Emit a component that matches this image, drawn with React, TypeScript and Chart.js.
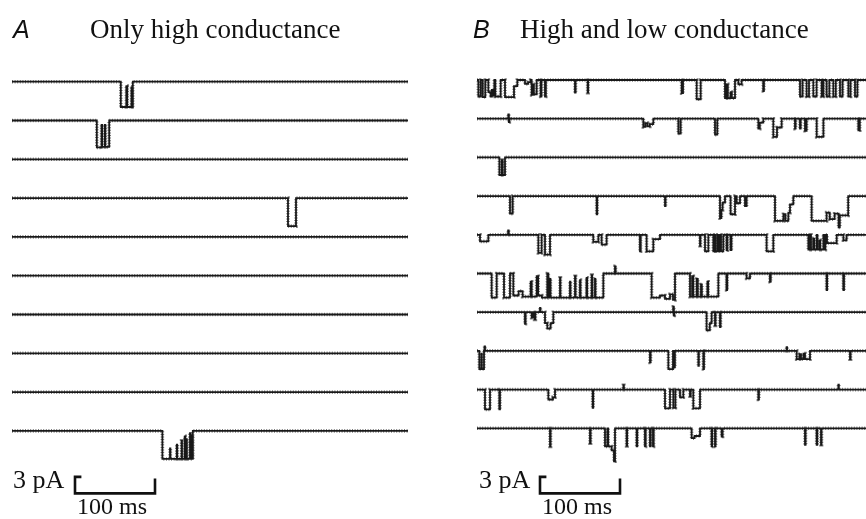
import React, { useEffect, useRef } from "react";
import { Chart, registerables } from "chart.js";

Chart.register(...registerables);

// ---- data: each trace is a list of current transitions [time ms, level pA] (0 = closed) ----
const SCALE_MS = 100;
const SCALE_PA = 3;
const A_END_MS = 495;
const B_END_MS = 492;

const A1 = [[136, -4.6], [143, -0.8], [144, -4.6], [149.5, -1], [150, -4.7], [151, 0]];
const A2 = [[106, -4.9], [112, -0.8], [112.7, -4.8], [116, -0.8], [116.7, -4.8], [121.5, 0]];
const A3: number[][] = [];
const A4 = [[345, -5.1], [355, 0]];
const A5: number[][] = [];
const A6: number[][] = [];
const A7: number[][] = [];
const A8: number[][] = [];
const A9: number[][] = [];
const A10 = [[188, -5.1], [197.5, -3.2], [198, -5.1], [206, -2.5], [206.5, -5.1], [212, -1.8], [212.5, -5.1], [216, -1], [216.5, -5.1], [218, -1.5], [218.5, -5.1], [222.5, -0.4], [223, -5.1], [225, -0.8], [225.5, -5.1], [226, 0]];

const B1 = [[1.7, -3], [4.6, 0], [7.1, -3.1], [10.4, 0], [14.2, -2.2], [17, -3], [18.5, -1.8], [20.4, -2.8], [21.7, 0], [22.9, -3], [29.6, 0], [35, -3.1], [46.25, -1.1], [50.4, 0], [60, -0.7], [64, -0.4], [67.1, 0], [68.3, -2.7], [70, -0.8], [71, -2.6], [74.6, 0], [79.6, -3], [80.5, 0], [85, -3], [86, 0], [122.5, -2.3], [123.2, 0], [138.3, -2.3], [139, 0], [255.8, -2.4], [257.5, 0], [274.6, -3.5], [279.6, 0], [310, -3.3], [312, -0.8], [313.5, -3.3], [317, -2.2], [318.5, -3.3], [322.5, 0], [326.7, -0.8], [330.8, 0], [357.9, -2], [358.6, 0], [403.75, -3], [407, 0], [412, -3], [415, 0], [420.4, -3], [424.5, 0], [430.8, -3], [433, 0], [437, -3], [440.5, 0], [445.4, -3], [448.5, 0], [453.75, -3], [457, 0], [464.2, -3], [467, 0], [472.5, -3], [475.5, 0]];
const B2 = [[39.2, 0.8], [39.8, -0.6], [40.4, 0], [207.9, -1.5], [210.5, -0.8], [213, -1.4], [216, -1], [220.4, 0], [251.7, -2.7], [254.6, 0], [297.5, -2.9], [300.4, 0], [351.7, -1.8], [353.5, -0.7], [357.9, 0], [370.4, -3.3], [375, -1.6], [380.8, 0], [397.5, -1.8], [398.2, 0], [403.75, -1.8], [404.5, 0], [410, -2.2], [412, 0], [424.6, -3.3], [433, 0], [476.7, -2.1], [478.5, 0]];
const B3 = [[28, -3.2], [31, -0.5], [32, -3.2], [35, 0]];
const B4 = [[41.25, -3.2], [44.6, 0], [149.6, -3.3], [150.3, 0], [235, -1.8], [235.7, 0], [303.75, -4], [305.5, -2.5], [307, -1.2], [310, 0], [317, -3.3], [322.5, 0], [324.6, -1.3], [328.75, 0], [335, -1.8], [337, 0], [372.5, -4.5], [383, -3.3], [385.5, -4.5], [389.2, -3], [391.25, -1.5], [395.4, 0], [418.3, -4.5], [437, -3], [441, -4.2], [447, -3.2], [452, -5.7], [453.5, -3.5], [464, 0]];
const B5 = [[3.75, -1.2], [14.2, 0], [39, 0.8], [39.6, 0], [76.7, -3.3], [80.8, 0], [85, -3.6], [91.25, 0], [145.4, -1.3], [151.7, 0], [155.8, -1.8], [162, 0], [203.75, -3], [204.5, 0], [212, -3], [220.4, -0.8], [228.75, 0], [278.75, -2], [279.3, 0], [285, -3], [289.2, 0], [295.4, -3], [297.5, 0], [298.5, -3], [301, 0], [302, -3], [304, 0], [305, -3], [307.9, 0], [312, -2.8], [313, 0], [317, -2.8], [318, 0], [362, -3], [370.4, 0], [414.2, -2.7], [416.5, 0], [417.5, -2.7], [420.4, -0.7], [421.5, -2.7], [424.6, 0], [425.5, -2.7], [428, -1], [429, -2.7], [433, 0], [434, -2.7], [435.5, 0], [437.5, -1.5], [449.6, 0], [458, -1], [462, 0]];
const B6 = [[18.3, -4.4], [24.6, 0], [33.75, -4.4], [41.25, 0], [45.4, -4], [52, -3.2], [57, -4.2], [67.1, -1.5], [68.3, -4.2], [74.6, -0.5], [76.5, -4], [81, -4.4], [87.9, 0], [89.2, -4.3], [91.25, -1], [91.8, -4.4], [103.75, -0.8], [104.3, -4.4], [116.25, -1.5], [116.8, -4.4], [122.5, -0.5], [123.2, -4.4], [128.75, -1.2], [129.3, -4.4], [137, -0.8], [137.6, -4.4], [143.3, -0.3], [144, -4.4], [147.5, -1], [148, -4.4], [157.9, 0], [172.5, 1.3], [173.2, 0], [218.3, -4.4], [228.75, -4], [235, -4.6], [241.25, -3.8], [245, -4.8], [247.5, 0], [266.25, -4.2], [269, -0.5], [270.4, -4.2], [274.6, -1], [276, -4.2], [280, -2], [281, -4.2], [288, -1.5], [289, -4.2], [301.7, 0], [312, -3], [312.7, 0], [337, -0.9], [341.25, 0], [366.25, -1.5], [367, 0], [437, -3], [437.7, 0], [458, -3], [458.7, 0]];
const B7 = [[60, -2.1], [60.6, 0], [68.3, -1], [70, 0], [72, -1.3], [73, 0], [78.75, 0.8], [79.3, 0], [85, -2], [87.9, -3], [92, -2], [95.4, 0], [245.4, 1], [246, -0.6], [246.6, 0], [287, -3.3], [291, -2], [293.3, 0], [297.5, -2.4], [298.2, 0], [303.75, -2.7], [304.4, 0]];
const B8 = [[2.9, -3.3], [5.5, -0.5], [6, -3.3], [8.75, 0], [9.5, 0.8], [10, 0], [216.25, -2.1], [217, 0], [239.2, -3.3], [245, 0], [246.7, -3], [247.3, 0], [276.7, -2.7], [277.3, 0], [283, -3.3], [283.7, 0], [387, 0.7], [387.6, 0], [399.6, -1.5], [403, -0.6], [405, -1.5], [408, -0.5], [410, -1.5], [416.25, 0], [466.25, -1.5], [467, 0]];
const B9 = [[10, -3.6], [16.25, 0], [28, -3.6], [28.7, 0], [89.2, -1.8], [95, -1.4], [97.5, 0], [144.6, -3.3], [145.3, 0], [183, 0.8], [183.6, 0], [235, -3.4], [241.25, 0], [245.4, -3.3], [248, 0], [253.75, -1.4], [257.9, 0], [266.25, -1.2], [267, 0], [270.4, -3.4], [278.75, 0], [351.7, -1.8], [352.4, 0], [451.7, 0.9], [452.3, 0]];
const B10 = [[91.25, -3.3], [92, 0], [141.25, -2.7], [142, 0], [160, -3.3], [163, 0], [164, -3.3], [168.3, -4], [171.25, -6], [172.5, 0], [187, -3.2], [187.7, 0], [199.6, -3.3], [200.3, 0], [210, -3.3], [210.7, 0], [216.25, -3.3], [217, 0], [220, -3.3], [220.7, 0], [268.3, -1.8], [272, -1.4], [278.75, 0], [293.3, -3.3], [294, 0], [297.5, -3.3], [298.2, 0], [305.8, -1.5], [307, 0], [410, -3], [410.7, 0], [424.6, -3], [425.3, 0], [430, -3], [430.7, 0]];

const A_ROWS = [A1, A2, A3, A4, A5, A6, A7, A8, A9, A10];
const B_ROWS = [B1, B2, B3, B4, B5, B6, B7, B8, B9, B10];

// ---- layout ----
const W = 433;
const H = 519;
const PX_PER_MS = 0.8;
const PX_PER_PA = 5.5;
const INK = "#1c1c1c";

type PanelProps = {
  rows: number[][][];
  end: number;
  x0: number;
  firstRow: number;
  rowGap: number;
  left: number;
};

function Panel({ rows, end, x0, firstRow, rowGap, left }: PanelProps) {
  const ref = useRef<HTMLCanvasElement>(null);
  useEffect(() => {
    if (!ref.current) return;
    const top = -firstRow / PX_PER_PA;
    const gap = -rowGap / PX_PER_PA;
    const datasets: any[] = [];
    rows.forEach((tr, i) => {
      const off = top + i * gap;
      const pts = [{ x: 0, y: off }];
      tr.forEach(([t, lv]) => pts.push({ x: t, y: off + lv }));
      pts.push({ x: end, y: off });
      // fuzzy band (texture of the recording noise)
      datasets.push({
        data: pts,
        borderColor: "rgba(20,20,20,0.55)",
        borderWidth: 3.6,
        borderDash: [1, 1.6],
        stepped: true,
        pointRadius: 0,
        fill: false,
      });
      // core trace
      datasets.push({
        data: pts,
        borderColor: INK,
        borderWidth: 1.8,
        stepped: true,
        pointRadius: 0,
        fill: false,
        borderJoinStyle: "miter",
      });
    });
    // scale bar: 100 ms x 3 pA
    const sbX = 78.75;
    const sbBottom = -493.4 / PX_PER_PA;
    datasets.push({
      data: [
        { x: sbX + 8, y: sbBottom + SCALE_PA },
        { x: sbX, y: sbBottom + SCALE_PA },
        { x: sbX, y: sbBottom },
        { x: sbX + SCALE_MS, y: sbBottom },
        { x: sbX + SCALE_MS, y: sbBottom + SCALE_PA * 0.9 },
      ],
      borderColor: "#111",
      borderWidth: 2.6,
      pointRadius: 0,
      fill: false,
      tension: 0,
      borderJoinStyle: "miter",
      borderCapStyle: "butt",
    });
    const chart = new Chart(ref.current, {
      type: "line",
      data: { datasets },
      options: {
        animation: false,
        responsive: false,
        devicePixelRatio: 1,
        layout: { padding: 0 },
        scales: {
          x: { type: "linear", display: false, min: -x0 / PX_PER_MS, max: (W - x0) / PX_PER_MS },
          y: { type: "linear", display: false, min: -H / PX_PER_PA, max: 0 },
        },
        plugins: { legend: { display: false }, tooltip: { enabled: false } },
        elements: { point: { radius: 0 } },
      },
    });
    return () => chart.destroy();
  }, []);
  return (
    <canvas
      ref={ref}
      width={W}
      height={H}
      style={{ position: "absolute", left, top: 0, width: W, height: H }}
    />
  );
}

const serif = '"Liberation Serif", "Times New Roman", serif';
const sans = '"Liberation Sans", Arial, sans-serif';

function Txt({ x, y, size, children, italic, family }: any) {
  return (
    <div
      style={{
        position: "absolute",
        left: x,
        top: y,
        fontSize: size,
        lineHeight: `${size}px`,
        fontFamily: family,
        fontStyle: italic ? "italic" : "normal",
        color: "#111",
        whiteSpace: "nowrap",
      }}
    >
      {children}
    </div>
  );
}

export default function App() {
  return (
    <div style={{ position: "absolute", left: 0, top: 0, width: 866, height: 519, background: "#fff", overflow: "hidden" }}>
      <Panel rows={A_ROWS} end={A_END_MS} x0={12} firstRow={81.7} rowGap={38.8} left={0} />
      <Panel rows={B_ROWS} end={B_END_MS} x0={44} firstRow={80} rowGap={38.7} left={433} />
      <Txt x={13} y={17} size={25} italic family={sans}>A</Txt>
      <Txt x={90} y={16} size={27} family={serif}>Only high conductance</Txt>
      <Txt x={473} y={17} size={25} italic family={sans}>B</Txt>
      <Txt x={520} y={16} size={27} family={serif}>High and low conductance</Txt>
      <Txt x={13} y={466.5} size={26} family={serif}>3 pA</Txt>
      <Txt x={77} y={494} size={24} family={serif}>100 ms</Txt>
      <Txt x={479} y={466.5} size={26} family={serif}>3 pA</Txt>
      <Txt x={542} y={494} size={24} family={serif}>100 ms</Txt>
    </div>
  );
}
